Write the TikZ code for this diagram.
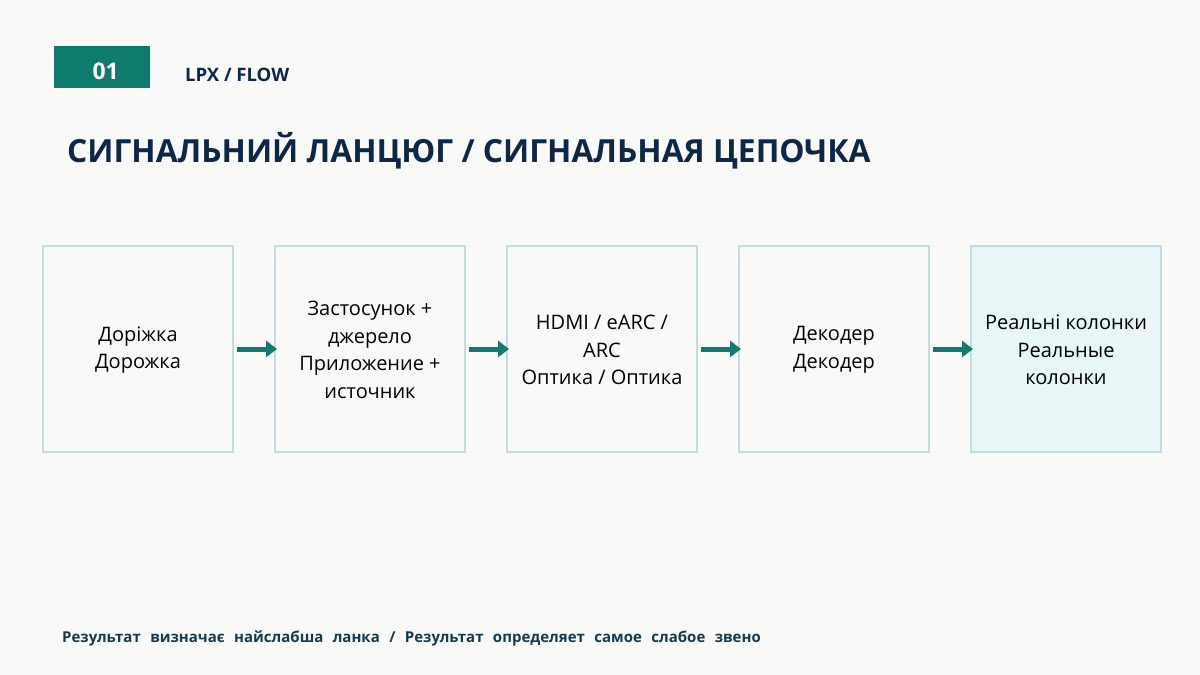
\documentclass[tikz,border=0pt]{standalone}
\usepackage{fontspec}
\setmainfont{Open Sans}
\usetikzlibrary{arrows.meta}
\definecolor{bg}{HTML}{F9F9F8}
\definecolor{teal}{HTML}{0F7A6E}
\definecolor{navy}{HTML}{0E2747}
\definecolor{boxline}{HTML}{C3DCE2}
\definecolor{boxfill}{HTML}{E8F6F7}
\definecolor{foot}{HTML}{173A4E}
\tikzset{
  x=1pt,y=-1pt,
  stepbox/.style={draw=boxline,line width=2pt,fill=bg,minimum width=190pt,minimum height=206pt,
    anchor=north west,inner sep=0pt},
  boxtext/.style={align=center,font=\fontsize{20}{27.5}\selectfont,text=black},
  flow/.style={draw=teal,line width=5pt,-{Triangle[length=11pt,width=16pt]}},
}
\begin{document}
\begin{tikzpicture}
\fill[bg] (0,0) rectangle (1200,675);
\useasboundingbox (0,0) rectangle (1200,675);
\node[fill=teal,minimum width=96pt,minimum height=42pt,anchor=north west,inner sep=0pt] (num) at (54,46) {};
\node[text=white,font=\fontsize{23}{26}\selectfont\bfseries,inner sep=0pt] (numtext) at ([xshift=3.5pt,yshift=-4pt]num.center) {01};
\node[anchor=west,inner sep=0pt,text=navy,font=\fontsize{18.5}{22}\selectfont\bfseries] (tag) at (185,75) {LPX / FLOW};
\node[anchor=west,inner sep=0pt,text=navy,font=\fontsize{31.8}{36}\selectfont\bfseries] (title) at (67,151) {СИГНАЛЬНИЙ ЛАНЦЮГ / СИГНАЛЬНАЯ ЦЕПОЧКА};
\node[stepbox] (b1) at (42,245) {};
\node[stepbox] (b2) at (274,245) {};
\node[stepbox] (b3) at (506,245) {};
\node[stepbox] (b4) at (738,245) {};
\node[stepbox,fill=boxfill] (b5) at (970,245) {};
\node[boxtext] (t1) at ([yshift=-1pt]b1.center) {Доріжка\\Дорожка};
\node[boxtext] (t2) at ([yshift=-1pt]b2.center) {Застосунок +\\джерело\\Приложение +\\источник};
\node[boxtext] (t3) at ([yshift=-1pt]b3.center) {HDMI / eARC /\\ARC\\Оптика / Оптика};
\node[boxtext] (t4) at ([yshift=-1pt]b4.center) {Декодер\\Декодер};
\node[boxtext] (t5) at ([yshift=-1pt]b5.center) {Реальні колонки\\Реальные\\колонки};
\draw[flow] ([xshift=3pt]b1.east) -- ([xshift=3pt]b2.west);
\draw[flow] ([xshift=3pt]b2.east) -- ([xshift=3pt]b3.west);
\draw[flow] ([xshift=3pt]b3.east) -- ([xshift=3pt]b4.west);
\draw[flow] ([xshift=3pt]b4.east) -- ([xshift=3pt]b5.west);
\node[anchor=west,inner sep=0pt,text=foot,font=\fontsize{15}{18}\selectfont\bfseries,
  execute at begin node={\spaceskip=0.63em plus 0.1em}] (note) at (62,638)
  {Результат визначає найслабша ланка / Результат определяет самое слабое звено};
\end{tikzpicture}
\end{document}
